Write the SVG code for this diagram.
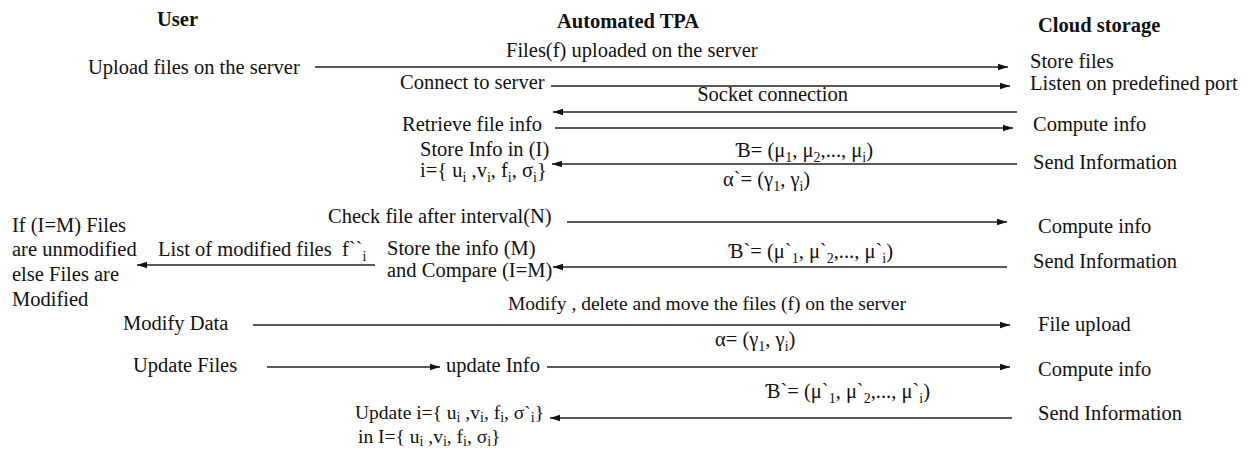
<svg xmlns="http://www.w3.org/2000/svg" width="1258" height="450" viewBox="0 0 1258 450">
<defs>
<marker id="ah" markerWidth="10" markerHeight="8" refX="10" refY="4" orient="auto" markerUnits="userSpaceOnUse"><path d="M0,0.8 L10,4 L0,7.2 z" fill="#111"/></marker>
<style>
text{font-family:"Liberation Serif","Times New Roman",serif;font-size:20.5px;fill:#111}
.h{font-weight:bold}
.s{font-size:14px}
.e{text-anchor:end}
.sm{font-size:19.5px}
#connectors line{stroke:#222;stroke-width:1.3;marker-end:url(#ah)}
</style>
</defs>
<rect width="1258" height="450" fill="#fff"/>
<g id="headers">
<g id="user-header"><text class="h" x="157" y="26">User</text></g>
<g id="tpa-header"><text class="h" x="557" y="28">Automated TPA</text></g>
<g id="cloud-header"><text class="h" x="1038" y="32">Cloud storage</text></g>
</g>
<g id="connectors">
<line x1="315" y1="67" x2="1008" y2="67"/>
<line x1="551" y1="86" x2="1010" y2="86"/>
<line x1="1017" y1="112" x2="553" y2="112"/>
<line x1="555" y1="128" x2="1013" y2="128"/>
<line x1="1017" y1="164" x2="552" y2="164"/>
<line x1="567" y1="222" x2="1007" y2="222"/>
<line x1="375" y1="265" x2="137" y2="265"/>
<line x1="1007" y1="267" x2="553" y2="267"/>
<line x1="253" y1="325" x2="1010" y2="325"/>
<line x1="267" y1="367" x2="440" y2="367"/>
<line x1="547" y1="367" x2="1010" y2="367"/>
<line x1="1012" y1="418" x2="550" y2="418"/>
</g>
<g id="connector-labels">
<text x="506" y="57">Files(f) uploaded on the server</text>
<text class="e" x="848" y="101">Socket connection</text>
<text class="e" x="873" y="157">Ɓ= (μ<tspan class="s" dy="5">1</tspan><tspan dy="-5">, μ</tspan><tspan class="s" dy="5">2</tspan><tspan dy="-5">,..., μ</tspan><tspan class="s" dy="5">i</tspan><tspan dy="-5">)</tspan></text>
<text x="723" y="186">α`= (γ<tspan class="s" dy="5">1</tspan><tspan dy="-5">, γ</tspan><tspan class="s" dy="5">i</tspan><tspan dy="-5">)</tspan></text>
<text x="158" y="256">List of modified files&#160; f``<tspan class="s" dy="5">i</tspan></text>
<text class="e" x="893" y="258">Ɓ`= (μ`<tspan class="s" dy="5">1</tspan><tspan dy="-5">, μ`</tspan><tspan class="s" dy="5">2</tspan><tspan dy="-5">,..., μ`</tspan><tspan class="s" dy="5">i</tspan><tspan dy="-5">)</tspan></text>
<text class="e" x="906" y="310" style="font-size:19.5px">Modify , delete and move the files (f) on the server</text>
<text x="715" y="346">α= (γ<tspan class="s" dy="5">1</tspan><tspan dy="-5">, γ</tspan><tspan class="s" dy="5">i</tspan><tspan dy="-5">)</tspan></text>
<text class="e" x="930" y="398">Ɓ`= (μ`<tspan class="s" dy="5">1</tspan><tspan dy="-5">, μ`</tspan><tspan class="s" dy="5">2</tspan><tspan dy="-5">,..., μ`</tspan><tspan class="s" dy="5">i</tspan><tspan dy="-5">)</tspan></text>
</g>
<g id="user-nodes">
<g id="n-upload"><text x="88" y="74">Upload files on the server</text></g>
<g id="n-result"><text x="12" y="232">If (I=M) Files</text><text x="12" y="256">are unmodified</text><text x="12" y="281">else Files are</text><text x="12" y="306">Modified</text></g>
<g id="n-modify"><text x="123" y="330">Modify Data</text></g>
<g id="n-updatefiles"><text x="133" y="372">Update Files</text></g>
</g>
<g id="tpa-nodes">
<g id="n-connect"><text x="400" y="89">Connect to server</text></g>
<g id="n-retrieve"><text x="402" y="131">Retrieve file info</text></g>
<g id="n-storeinfo"><text x="420" y="156">Store Info in (I)</text><text x="420" y="177">i={ u<tspan class="s" dy="5">i</tspan><tspan dy="-5"> ,v</tspan><tspan class="s" dy="5">i</tspan><tspan dy="-5">, f</tspan><tspan class="s" dy="5">i</tspan><tspan dy="-5">, σ</tspan><tspan class="s" dy="5">i</tspan><tspan dy="-5">}</tspan></text></g>
<g id="n-check"><text x="328" y="223">Check file after interval(N)</text></g>
<g id="n-compare"><text x="387" y="255">Store the info (M)</text><text x="387" y="277">and Compare (I=M)</text></g>
<g id="n-updateinfo"><text x="446" y="372">update Info</text></g>
<g id="n-update"><text class="sm" x="355" y="419">Update i={ u<tspan class="s" dy="3">i</tspan><tspan dy="-3"> ,v</tspan><tspan class="s" dy="3">i</tspan><tspan dy="-3">, f</tspan><tspan class="s" dy="3">i</tspan><tspan dy="-3">, σ`</tspan><tspan class="s" dy="3">i</tspan><tspan dy="-3">}</tspan></text><text class="sm" x="358" y="443">in I={ u<tspan class="s" dy="3">i</tspan><tspan dy="-3"> ,v</tspan><tspan class="s" dy="3">i</tspan><tspan dy="-3">, f</tspan><tspan class="s" dy="3">i</tspan><tspan dy="-3">, σ</tspan><tspan class="s" dy="3">i</tspan><tspan dy="-3">}</tspan></text></g>
</g>
<g id="cloud-nodes">
<g id="n-store"><text x="1030" y="68">Store files</text></g>
<g id="n-listen"><text x="1030" y="90">Listen on predefined port</text></g>
<g id="n-compute1"><text x="1033" y="131">Compute info</text></g>
<g id="n-send1"><text x="1033" y="169">Send Information</text></g>
<g id="n-compute2"><text x="1038" y="233">Compute info</text></g>
<g id="n-send2"><text x="1033" y="268">Send Information</text></g>
<g id="n-fileupload"><text x="1038" y="331">File upload</text></g>
<g id="n-compute3"><text x="1038" y="376">Compute info</text></g>
<g id="n-send3"><text x="1038" y="420">Send Information</text></g>
</g>
</svg>
